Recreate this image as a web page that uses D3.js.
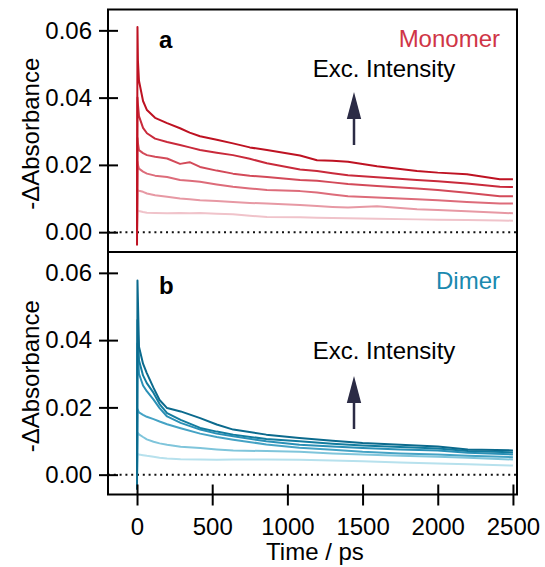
<!DOCTYPE html>
<html>
<head>
<meta charset="utf-8">
<script src="https://cdn.jsdelivr.net/npm/d3@7"></script>
<style>
  body { margin: 0; background: #fff; }
  svg { display: block; font-family: "Liberation Sans", Arial, Helvetica, sans-serif; }
</style>
</head>
<body>
<div id="chart"></div>
<script>
// Monomer (panel a) - time points in ps and six excitation intensities
const timeA = [0, 3, 6, 13, 40, 66, 120, 200, 286, 350, 419, 530, 638, 750, 864, 1084, 1197, 1300, 1403, 1596, 1862, 2000, 2194, 2413, 2500];
const monomer = [
    [0, 0.0064, 0.0064, 0.0063, 0.0060, 0.0058, 0.0057, 0.0056, 0.0057, 0.0056, 0.0057, 0.0055, 0.0053, 0.0049, 0.0045, 0.0044, 0.0043, 0.0042, 0.0041, 0.0040, 0.0038, 0.0037, 0.0036, 0.0035, 0.0034],
    [0, 0.0125, 0.0124, 0.0123, 0.0120, 0.0115, 0.0110, 0.0105, 0.0100, 0.0098, 0.0095, 0.0093, 0.0090, 0.0087, 0.0085, 0.0081, 0.0078, 0.0075, 0.0073, 0.0077, 0.0068, 0.0066, 0.0062, 0.0058, 0.0056],
    [0, 0.0210, 0.0200, 0.0189, 0.0180, 0.0174, 0.0168, 0.0164, 0.0155, 0.0153, 0.0150, 0.0142, 0.0135, 0.0130, 0.0125, 0.0122, 0.0118, 0.0112, 0.0107, 0.0103, 0.0098, 0.0095, 0.0090, 0.0085, 0.0085],
    [0, 0.0280, 0.0265, 0.0244, 0.0235, 0.0229, 0.0224, 0.0219, 0.0203, 0.0208, 0.0194, 0.0183, 0.0174, 0.0168, 0.0164, 0.0155, 0.0153, 0.0148, 0.0143, 0.0137, 0.0130, 0.0125, 0.0117, 0.0107, 0.0107],
    [0, 0.0400, 0.0380, 0.0345, 0.0310, 0.0294, 0.0278, 0.0268, 0.0259, 0.0252, 0.0244, 0.0236, 0.0229, 0.0218, 0.0205, 0.0186, 0.0182, 0.0175, 0.0169, 0.0163, 0.0155, 0.0151, 0.0145, 0.0135, 0.0134],
    [-0.0040, 0.0610, 0.0510, 0.0450, 0.0390, 0.0363, 0.0340, 0.0324, 0.0309, 0.0296, 0.0285, 0.0275, 0.0264, 0.0252, 0.0244, 0.0228, 0.0214, 0.0212, 0.0209, 0.0196, 0.0182, 0.0177, 0.0172, 0.0157, 0.0157]
];
const monomerColors = ["#f0c3ca", "#e799a4", "#dd6c7a", "#d34a59", "#c92a3b", "#be1222"];

// Dimer (panel b)
const timeB = [0, 3, 13, 40, 65, 110, 150, 200, 290, 420, 530, 640, 860, 1080, 1300, 1500, 1750, 2000, 2200, 2500];
const dimer = [
    [0, 0.0062, 0.0060, 0.0058, 0.0056, 0.0053, 0.0050, 0.0048, 0.0046, 0.0045, 0.0044, 0.0045, 0.0045, 0.0044, 0.0042, 0.0040, 0.0036, 0.0033, 0.0031, 0.0027],
    [0, 0.0125, 0.0120, 0.0112, 0.0105, 0.0098, 0.0093, 0.0089, 0.0083, 0.0079, 0.0075, 0.0072, 0.0070, 0.0068, 0.0063, 0.0060, 0.0056, 0.0053, 0.0050, 0.0045],
    [0, 0.0195, 0.0185, 0.0178, 0.0172, 0.0165, 0.0158, 0.0150, 0.0138, 0.0122, 0.0112, 0.0104, 0.0090, 0.0080, 0.0074, 0.0068, 0.0063, 0.0060, 0.0056, 0.0052],
    [0, 0.0390, 0.0300, 0.0265, 0.0248, 0.0223, 0.0198, 0.0173, 0.0154, 0.0134, 0.0122, 0.0114, 0.0099, 0.0089, 0.0084, 0.0079, 0.0075, 0.0072, 0.0065, 0.0060],
    [0, 0.0460, 0.0340, 0.0295, 0.0272, 0.0243, 0.0210, 0.0183, 0.0163, 0.0139, 0.0128, 0.0119, 0.0106, 0.0099, 0.0092, 0.0087, 0.0082, 0.0078, 0.0070, 0.0066],
    [-0.0045, 0.0577, 0.0380, 0.0330, 0.0302, 0.0258, 0.0222, 0.0198, 0.0188, 0.0168, 0.0149, 0.0134, 0.0119, 0.0109, 0.0101, 0.0094, 0.0089, 0.0084, 0.0075, 0.0072]
];
const dimerColors = ["#b7e1ed", "#7fc5db", "#45a3c5", "#2a90b6", "#127c9f", "#0b6a8d"];

const yTicks = [0, 0.02, 0.04, 0.06];
const xTicks = [0, 500, 1000, 1500, 2000, 2500];

const W = 545, H = 567;
const left = 108, right = 517;
const fs = 24;
const panels = [
    { key: "a", name: "Monomer", top: 9.5, bottom: 252, time: timeA, series: monomer, colors: monomerColors, nameColor: "#cf3546" },
    { key: "b", name: "Dimer", top: 252, bottom: 494.5, time: timeB, series: dimer, colors: dimerColors, nameColor: "#1a89af" }
];

const svg = d3.select("#chart").append("svg")
    .attr("width", W)
    .attr("height", H);

const x = d3.scaleLinear().domain([-193, 2527]).range([left, right]);

panels.forEach((p, i) => {
    const y = d3.scaleLinear().domain([-0.0059, 0.0662]).range([p.bottom, p.top]);

    // zero line
    svg.append("line")
        .attr("x1", left).attr("x2", right)
        .attr("y1", y(0)).attr("y2", y(0))
        .attr("stroke", "#111")
        .attr("stroke-width", 2)
        .attr("stroke-dasharray", "2,3.8");

    // traces, lightest first
    const line = d3.line()
        .x((d, j) => x(p.time[j]))
        .y(d => y(d));
    p.series.forEach((s, k) => {
        svg.append("path")
            .datum(s)
            .attr("fill", "none")
            .attr("stroke", p.colors[k])
            .attr("stroke-width", 2)
            .attr("stroke-linejoin", "round")
            .attr("d", line);
    });

    // frame
    svg.append("rect")
        .attr("x", left).attr("y", p.top)
        .attr("width", right - left).attr("height", p.bottom - p.top)
        .attr("fill", "none")
        .attr("stroke", "#000")
        .attr("stroke-width", 2);

    // y axis with crossing ticks
    const ya = svg.append("g")
        .attr("transform", `translate(${left + 10},0)`)
        .call(d3.axisLeft(y).tickValues(yTicks).tickFormat(d3.format(".2f")).tickSize(19).tickPadding(7));
    ya.select(".domain").remove();
    ya.selectAll(".tick line").attr("stroke", "#000").attr("stroke-width", 2);
    ya.selectAll("text").attr("font-size", fs).attr("fill", "#000").attr("font-family", null);

    svg.append("text")
        .attr("transform", `translate(39,${(p.top + p.bottom) / 2 + 3}) rotate(-90)`)
        .attr("text-anchor", "middle")
        .attr("font-size", fs)
        .text("-\u0394Absorbance");

    // panel letter and label
    svg.append("text")
        .attr("x", 159).attr("y", p.top + (i === 0 ? 38.5 : 42))
        .attr("font-size", fs).attr("font-weight", "bold")
        .text(p.key);
    svg.append("text")
        .attr("x", 500).attr("y", p.top + (i === 0 ? 37.5 : 37))
        .attr("text-anchor", "end")
        .attr("font-size", fs)
        .attr("fill", p.nameColor)
        .text(p.name);

    // excitation intensity arrow
    const ax = 354;
    const tipY = i === 0 ? 92 : 376;
    svg.append("text")
        .attr("x", 384).attr("y", i === 0 ? 77 : 359)
        .attr("text-anchor", "middle")
        .attr("font-size", fs)
        .text("Exc. Intensity");
    svg.append("line")
        .attr("x1", ax).attr("x2", ax)
        .attr("y1", tipY + 20).attr("y2", tipY + 53)
        .attr("stroke", "#2b2b45").attr("stroke-width", 2.5);
    svg.append("path")
        .attr("d", `M${ax},${tipY} L${ax + 7.2},${tipY + 27} L${ax - 7.2},${tipY + 27} Z`)
        .attr("fill", "#2b2b45");

    if (i === 1) {
        const xa = svg.append("g")
            .attr("transform", `translate(0,${p.bottom - 10})`)
            .call(d3.axisBottom(x).tickValues(xTicks).tickFormat(d3.format("d")).tickSize(21).tickPadding(12));
        xa.select(".domain").remove();
        xa.selectAll(".tick line").attr("stroke", "#000").attr("stroke-width", 2);
        xa.selectAll("text").attr("font-size", fs).attr("fill", "#000").attr("font-family", null);

        svg.append("text")
            .attr("x", (x(0) + x(2500)) / 2 - 10)
            .attr("y", 560)
            .attr("text-anchor", "middle")
            .attr("font-size", fs)
            .text("Time / ps");
    }
});
</script>
</body>
</html>
